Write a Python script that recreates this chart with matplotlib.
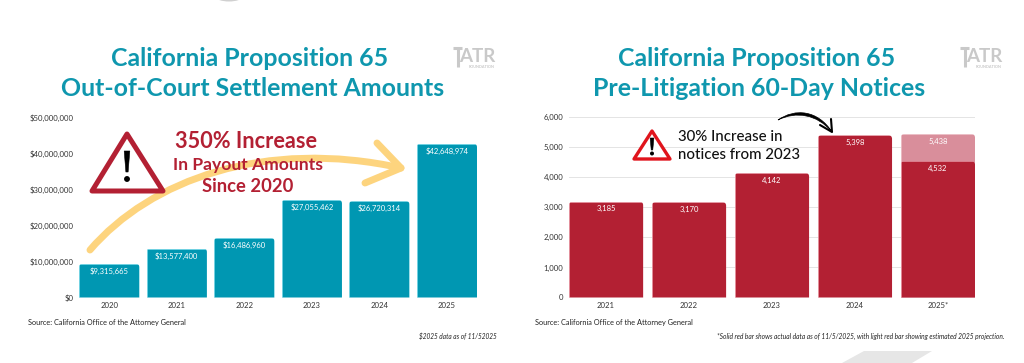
"""
California Proposition 65 settlement amounts and 60-day notices
"""
from matplotlib.path import Path
from matplotlib.patches import PathPatch, Polygon, Ellipse, Circle
from matplotlib.pyplot import figure, rcParams
from numpy import arange

rcParams["font.family"] = ["Lato", "DejaVu Sans"]

W, H = 1024, 363
TEAL = "#0097b2"
TITLE = "#0f97ae"
RED = "#b32033"
LIGHT_RED = "#d98e9b"
YELLOW = "#fdd47e"
DARK = "#333333"

years_left = ["2020", "2021", "2022", "2023", "2024", "2025"]
settlements = [9315665, 13577400, 16486960, 27055462, 26720314, 42648974]
settlement_labels = ["$9,315,665", "$13,577,400", "$16,486,960",
                     "$27,055,462", "$26,720,314", "$42,648,974"]
money_ticks = [0, 10000000, 20000000, 30000000, 40000000, 50000000]
money_labels = ["$0", "$10,000,000", "$20,000,000", "$30,000,000",
                "$40,000,000", "$50,000,000"]

years_right = ["2021", "2022", "2023", "2024", "2025*"]
notices = [3185, 3170, 4142, 5398, 4532]
notice_labels = ["3,185", "3,170", "4,142", "5,398", "4,532"]
projected_2025 = [5438]
projected_label = "5,438"
notice_ticks = [0, 1000, 2000, 3000, 4000, 5000, 6000]
notice_tick_labels = ["0", "1,000", "2,000", "3,000", "4,000", "5,000", "6,000"]


def round_top(ax, rects, radius=3.5):
    """
    clip bars to a rounded top, radius in pixels
    """
    box = ax.get_window_extent()
    xscale = (ax.get_xlim()[1] - ax.get_xlim()[0]) / box.width
    yscale = (ax.get_ylim()[1] - ax.get_ylim()[0]) / box.height
    rxd, ryd = radius * xscale, radius * yscale
    for rect in rects:
        x0, wid, top = rect.get_x(), rect.get_width(), rect.get_height()
        x1 = x0 + wid
        verts = [(x0, 0), (x0, top - ryd), (x0, top), (x0 + rxd, top),
                 (x1 - rxd, top), (x1, top), (x1, top - ryd), (x1, 0), (x0, 0)]
        codes = [Path.MOVETO, Path.LINETO, Path.CURVE3, Path.CURVE3, Path.LINETO,
                 Path.CURVE3, Path.CURVE3, Path.LINETO, Path.CLOSEPOLY]
        rect.set_clip_path(Path(verts, codes), ax.transData)


def bar_labels(ax, rects, labels, offset, size):
    """
    white value labels just under each bar top
    """
    for rect, label in zip(rects, labels):
        ax.annotate(label, (rect.get_x() + rect.get_width() / 2, rect.get_height()),
                    xytext=(0, -offset), textcoords="offset points", ha="center",
                    va="center", color="white", fontsize=size, zorder=6)


def style_axes(ax, ticks, tick_labels, cats):
    """
    shared axis styling
    """
    for spine in ax.spines.values():
        spine.set_visible(False)
    ax.set_xticks(arange(len(cats)))
    ax.set_xticklabels(cats)
    ax.set_yticks(ticks)
    ax.set_yticklabels(tick_labels)
    ax.tick_params(axis="both", length=0, labelsize=5.6, labelcolor=DARK)
    ax.tick_params(axis="x", pad=3.5)
    ax.tick_params(axis="y", pad=4)


def logo(ov, xpos):
    """
    grey ATR Foundation mark
    """
    grey = "#c9c9c9"
    ov.plot([xpos, xpos + 9], [47.5, 47.5], color=grey, lw=2.2, solid_capstyle="butt")
    ov.plot([xpos + 4.5, xpos + 4.5], [48, 67], color=grey, lw=2.2, solid_capstyle="butt")
    ov.text(xpos + 6, 56.5, "ATR", color=grey, fontsize=13.5, fontweight="bold",
            ha="left", va="center")
    ov.text(xpos + 42, 66.5, "FOUNDATION", color=grey, fontsize=2.8, fontweight="bold",
            ha="right", va="center")


def warning(ov, pts, color, lwd, bang):
    """
    warning triangle with exclamation mark
    """
    ov.add_patch(Polygon(pts, closed=True, fc="white", ec=color, lw=lwd, joinstyle="round",
                         zorder=4))
    xmid, ytop, ybot, dot, half = bang
    ov.add_patch(Polygon([(xmid - half, ytop), (xmid + half, ytop), (xmid + half * 0.4, ybot),
                          (xmid - half * 0.4, ybot)], closed=True, fc="black", ec="black",
                         lw=0.4, zorder=5))
    ov.add_patch(Circle((xmid, dot), half * 1.05, fc="black", ec="none", zorder=5))


def main():
    """
    main wrapper function
    """
    fig = figure(figsize=(W / 100, H / 100), dpi=100, facecolor="white")

    # left chart
    ax1 = fig.add_axes([79 / W, 1 - 297.5 / H, 398 / W, 180.2 / H])
    ax1.set_xlim(-0.447, 5.447)
    ax1.set_ylim(0, 50000000)
    rects1 = ax1.bar(arange(len(years_left)), settlements, width=0.894, color=TEAL,
                     edgecolor="#6fd3e3", linewidth=0.6, zorder=3)
    round_top(ax1, rects1)
    bar_labels(ax1, rects1, settlement_labels, 5.4, 5.5)
    style_axes(ax1, money_ticks, money_labels, years_left)

    # right chart
    ax2 = fig.add_axes([569 / W, 1 - 297.5 / H, 406 / W, 180.2 / H])
    ax2.set_xlim(-0.447, 4.447)
    ax2.set_ylim(0, 6000)
    ax2.grid(axis="y", color="#e4e4e4", lw=0.7, zorder=0)
    ax2.set_axisbelow(True)
    rects_light = ax2.bar([4], projected_2025, width=0.894, color=LIGHT_RED,
                          edgecolor="#eab8c0", linewidth=0.6, zorder=3)
    rects2 = ax2.bar(arange(len(years_right)), notices, width=0.894, color=RED,
                     edgecolor="#e58f9c", linewidth=0.6, zorder=4)
    round_top(ax2, rects_light)
    round_top(ax2, rects2)
    bar_labels(ax2, rects2, notice_labels, 5.0, 5.5)
    bar_labels(ax2, rects_light, [projected_label], 5.0, 5.5)
    style_axes(ax2, notice_ticks, notice_tick_labels, years_right)

    # overlay in pixel coordinates for titles and callouts
    ovr = fig.add_axes([0, 0, 1, 1], zorder=10)
    ovr.set_xlim(0, W)
    ovr.set_ylim(H, 0)
    ovr.axis("off")

    ovr.text(249.5, 59, "California Proposition 65", color=TITLE, fontsize=17.9,
             fontweight="bold", ha="center", va="center")
    ovr.text(252.5, 89, "Out-of-Court Settlement Amounts", color=TITLE, fontsize=17.9,
             fontweight="bold", ha="center", va="center")
    ovr.text(756.5, 59, "California Proposition 65", color=TITLE, fontsize=17.9,
             fontweight="bold", ha="center", va="center")
    ovr.text(759.5, 89, "Pre-Litigation 60-Day Notices", color=TITLE, fontsize=17.9,
             fontweight="bold", ha="center", va="center")
    logo(ovr, 453)
    logo(ovr, 960)

    # yellow sweep
    sweep = Path([(90, 250), (150, 180), (265, 138), (401, 168)],
                 [Path.MOVETO, Path.CURVE4, Path.CURVE4, Path.CURVE4])
    ovr.add_patch(PathPatch(sweep, fc="none", ec=YELLOW, lw=5, capstyle="round", zorder=2))
    ovr.plot([377, 401, 365], [143, 168, 183], color=YELLOW, lw=5,
             solid_capstyle="round", solid_joinstyle="round", zorder=2)

    warning(ovr, [(127, 134), (92, 191), (163, 191)], RED, 3.6, (127, 151, 172, 179, 2.8))
    ovr.text(246, 141, "350% Increase", color=RED, fontsize=15.6, fontweight="bold",
             ha="center", va="center", zorder=5)
    ovr.text(248, 165, "In Payout Amounts", color=RED, fontsize=12.6, fontweight="bold",
             ha="center", va="center", zorder=5)
    ovr.text(248, 186, "Since 2020", color=RED, fontsize=13.2, fontweight="bold",
             ha="center", va="center", zorder=5)

    warning(ovr, [(652, 131), (634, 159), (670, 159)], "#e0141c", 2.4,
            (652, 138, 150, 153.5, 1.9))
    ovr.text(678, 137, "30% Increase in", color="#111111", fontsize=10.8, fontweight="medium",
             ha="left", va="center")
    ovr.text(678, 155, "notices from 2023", color="#111111", fontsize=10.8, fontweight="medium",
             ha="left", va="center")

    # black arrow, tapered tail
    curve = Path([(778, 120), (795, 108), (818, 110), (832, 132), (817, 114), (796, 111),
                  (778, 120)],
                 [Path.MOVETO, Path.CURVE4, Path.CURVE4, Path.CURVE4, Path.CURVE4, Path.CURVE4,
                  Path.CURVE4])
    ovr.add_patch(PathPatch(curve, fc="black", ec="black", lw=0.5))
    ovr.plot([820, 832, 831], [125, 132, 119], color="black", lw=1.5,
             solid_capstyle="round", solid_joinstyle="round")

    # sources and notes
    ovr.text(28, 323, "Source: California Office of the Attorney General", color="#222222",
             fontsize=5.35, ha="left", va="center")
    ovr.text(535, 323, "Source: California Office of the Attorney General", color="#222222",
             fontsize=5.35, ha="left", va="center")
    ovr.text(497, 336.5, "$2025 data as of 11/52025", color="#222222", fontsize=4.7,
             style="italic", ha="right", va="center")
    ovr.text(1004, 336.5,
             "*Solid red bar shows actual data as of 11/5/2025, with light red bar showing "
             "estimated 2025 projection.", color="#222222", fontsize=4.78, style="italic",
             ha="right", va="center")

    # cropped grey shapes at the page edges
    ovr.add_patch(Polygon([(842, 363), (864, 351), (932, 351), (912, 363)], closed=True,
                          fc="#e6e6e6", ec="none"))
    ovr.add_patch(Ellipse((229, -3), 26, 9, fc="#d0d0d0", ec="none"))

    fig.savefig("out.png", dpi=100)


if __name__ == "__main__":
    main()
